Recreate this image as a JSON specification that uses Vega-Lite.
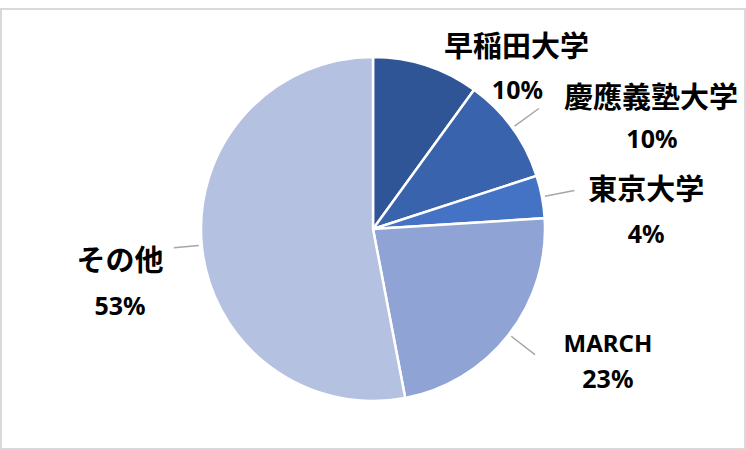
{
  "$schema": "https://vega.github.io/schema/vega-lite/v6.json",
  "width": 746,
  "height": 450,
  "autosize": {"type": "fit", "contains": "padding"},
  "padding": 1,
  "background": "#ffffff",
  "view": {"stroke": "#d9d9d9", "strokeWidth": 2},
  "config": {"view": {"stroke": "#d9d9d9", "strokeWidth": 2}},
  "data": {
    "values": [
      {"cat": "早稲田大学", "share": 0.10},
      {"cat": "慶應義塾大学", "share": 0.10},
      {"cat": "東京大学", "share": 0.04},
      {"cat": "MARCH", "share": 0.23},
      {"cat": "その他", "share": 0.53}
    ]
  },
  "transform": [{"window": [{"op": "row_number", "as": "rank"}]}],
  "encoding": {
    "theta": {"field": "share", "type": "quantitative", "stack": true},
    "order": {"field": "rank", "type": "quantitative"}
  },
  "layer": [
    {
      "mark": {"type": "arc", "radius": 172, "stroke": "#ffffff", "strokeWidth": 2.5},
      "encoding": {
        "color": {
          "field": "cat",
          "type": "nominal",
          "legend": null,
          "scale": {
            "domain": ["早稲田大学", "慶應義塾大学", "東京大学", "MARCH", "その他"],
            "range": ["#2f5597", "#3a63ae", "#4472c4", "#8fa3d4", "#b4c1e1"]
          }
        }
      }
    },
    {
      "mark": {"type": "arc", "radius": 205, "radius2": 175, "padAngle": 3, "fill": null, "stroke": "#a6a6a6", "strokeWidth": 1.5},
      "encoding": {
        "strokeOpacity": {"condition": {"test": "datum.cat === '早稲田大学' || datum.cat === 'その他'", "value": 0}, "value": 1}
      }
    },
    {
      "mark": {"type": "arc", "radius": 200, "radius2": 175, "padAngle": 3, "thetaOffset": 3.2358, "fill": null, "stroke": "#a6a6a6", "strokeWidth": 1.5},
      "encoding": {
        "strokeOpacity": {"condition": {"test": "datum.cat === '東京大学'", "value": 1}, "value": 0}
      }
    },
    {
      "mark": {"type": "text", "radius": 215, "dx": 77, "dy": 23, "font": "Noto Sans CJK JP", "fontSize": 29, "fontWeight": "bold", "align": "center", "baseline": "middle", "color": "#000000"},
      "encoding": {"text": {"condition": {"test": "datum.cat === '早稲田大学'", "field": "cat"}, "value": ""}}
    },
    {
      "mark": {"type": "text", "radius": 215, "dx": 78, "dy": 66, "font": "Noto Sans", "fontSize": 25, "fontWeight": "bold", "align": "center", "baseline": "middle", "color": "#000000"},
      "encoding": {"text": {"condition": {"test": "datum.cat === '早稲田大学'", "field": "share", "format": ".0%"}, "value": ""}}
    },
    {
      "mark": {"type": "text", "radius": 215, "dx": 104, "dy": -4, "font": "Noto Sans CJK JP", "fontSize": 29, "fontWeight": "bold", "align": "center", "baseline": "middle", "color": "#000000"},
      "encoding": {"text": {"condition": {"test": "datum.cat === '慶應義塾大学'", "field": "cat"}, "value": ""}}
    },
    {
      "mark": {"type": "text", "radius": 215, "dx": 105, "dy": 37, "font": "Noto Sans", "fontSize": 25, "fontWeight": "bold", "align": "center", "baseline": "middle", "color": "#000000"},
      "encoding": {"text": {"condition": {"test": "datum.cat === '慶應義塾大学'", "field": "share", "format": ".0%"}, "value": ""}}
    },
    {
      "mark": {"type": "text", "radius": 215, "dx": 62, "dy": 2, "font": "Noto Sans CJK JP", "fontSize": 29, "fontWeight": "bold", "align": "center", "baseline": "middle", "color": "#000000"},
      "encoding": {"text": {"condition": {"test": "datum.cat === '東京大学'", "field": "cat"}, "value": ""}}
    },
    {
      "mark": {"type": "text", "radius": 215, "dx": 62, "dy": 46, "font": "Noto Sans", "fontSize": 25, "fontWeight": "bold", "align": "center", "baseline": "middle", "color": "#000000"},
      "encoding": {"text": {"condition": {"test": "datum.cat === '東京大学'", "field": "share", "format": ".0%"}, "value": ""}}
    },
    {
      "mark": {"type": "text", "radius": 215, "dx": 65, "dy": -16, "font": "Noto Sans", "fontSize": 24, "fontWeight": "bold", "align": "center", "baseline": "middle", "color": "#000000"},
      "encoding": {"text": {"condition": {"test": "datum.cat === 'MARCH'", "field": "cat"}, "value": ""}}
    },
    {
      "mark": {"type": "text", "radius": 215, "dx": 65, "dy": 19, "font": "Noto Sans", "fontSize": 25, "fontWeight": "bold", "align": "center", "baseline": "middle", "color": "#000000"},
      "encoding": {"text": {"condition": {"test": "datum.cat === 'MARCH'", "field": "share", "format": ".0%"}, "value": ""}}
    },
    {
      "mark": {"type": "text", "radius": 215, "dx": -39, "dy": 13, "font": "Noto Sans CJK JP", "fontSize": 29, "fontWeight": "bold", "align": "center", "baseline": "middle", "color": "#000000"},
      "encoding": {"text": {"condition": {"test": "datum.cat === 'その他'", "field": "cat"}, "value": ""}}
    },
    {
      "mark": {"type": "text", "radius": 215, "dx": -39, "dy": 58, "font": "Noto Sans", "fontSize": 25, "fontWeight": "bold", "align": "center", "baseline": "middle", "color": "#000000"},
      "encoding": {"text": {"condition": {"test": "datum.cat === 'その他'", "field": "share", "format": ".0%"}, "value": ""}}
    }
  ]
}
